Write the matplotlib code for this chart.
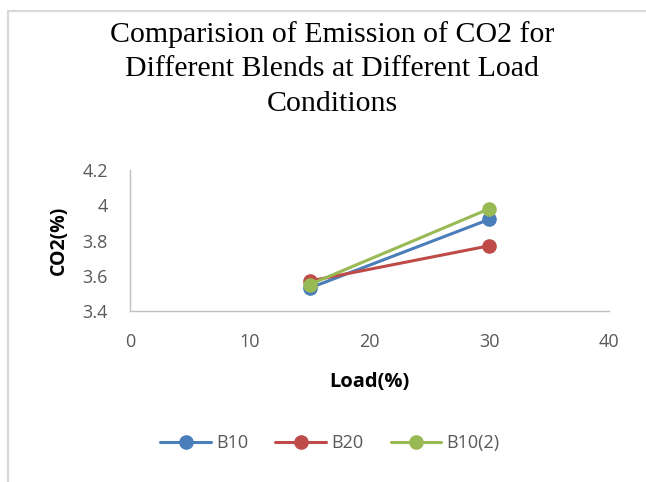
import matplotlib.pyplot as plt
from matplotlib.patches import Rectangle

# data
load = [15, 30]
b10 = [3.53, 3.92]
b20 = [3.57, 3.77]
b10_2 = [3.55, 3.98]

series = [("B10", b10, "#4a7ebb"), ("B20", b20, "#be4b48"), ("B10(2)", b10_2, "#98b954")]

x_ticks = [0, 10, 20, 30, 40]
y_ticks = [3.4, 3.6, 3.8, 4.0, 4.2]
y_tick_labels = ["3.4", "3.6", "3.8", "4", "4.2"]

fig = plt.figure(figsize=(6.46, 4.82), dpi=100)

# light grey chart frame (cut off at right and bottom)
fig.patches.append(Rectangle((7.5 / 646, -0.1), 1.2, 1.1 - 11 / 482,
                             transform=fig.transFigure, fill=False,
                             edgecolor="#d9d9d9", linewidth=1.6))

ax = fig.add_axes([130 / 646, 1 - 311 / 482, (609 - 130) / 646, (311 - 170) / 482])

for name, vals, col in series:
    ax.plot(load, vals, color=col, linewidth=2.2, marker="o", markersize=9.5,
            label=name, solid_capstyle="round")

ax.set_xlim(0, 40)
ax.set_ylim(3.4, 4.2)
ax.set_xticks(x_ticks)
ax.set_yticks(y_ticks)
ax.set_yticklabels(y_tick_labels)

for s in ["top", "right"]:
    ax.spines[s].set_visible(False)
for s in ["left", "bottom"]:
    ax.spines[s].set_color("#bfbfbf")
    ax.spines[s].set_linewidth(1.0)

ax.tick_params(length=0, labelsize=13, labelcolor="#595959", pad=16)
for lab in ax.get_xticklabels() + ax.get_yticklabels():
    lab.set_family("Open Sans")

ax.set_xlabel("Load(%)", family="Open Sans", fontweight="bold", fontsize=14.5, labelpad=15)
ax.set_ylabel("CO2(%)", family="Open Sans", fontweight="bold", fontsize=14, labelpad=10)

fig.text(332 / 646, 1 - 69 / 482, "Comparision of Emission of CO2 for\nDifferent Blends at Different Load\nConditions",
         family="Liberation Serif", fontsize=21.5, ha="center", va="center", linespacing=1.42)

fig.legend(loc="center", bbox_to_anchor=(330 / 646, 1 - 443 / 482), ncol=3, frameon=False,
           prop={"family": "Open Sans", "size": 13}, handlelength=2.8, handletextpad=0.3,
           columnspacing=1.5, labelcolor="#595959")

fig.savefig("out.png", dpi=100)
